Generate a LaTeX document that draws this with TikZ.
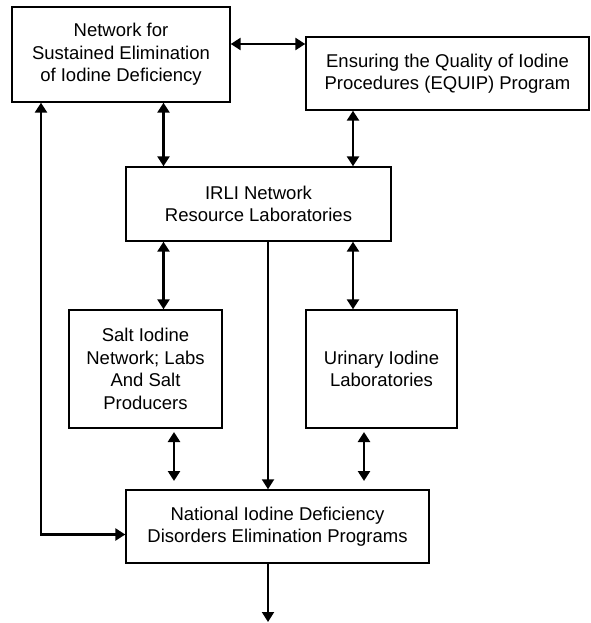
\documentclass[tikz,border=0pt]{standalone}
\usepackage{fontspec}
\setmainfont{Liberation Sans}
\usetikzlibrary{arrows.meta,calc}
\begin{document}
\begin{tikzpicture}[x=1pt,y=-1pt,
  box/.style={draw, line width=1.4pt, align=center, inner sep=0pt,
    font=\fontsize{18.5}{22.5}\selectfont},
  tip/.tip={Triangle[length=10pt,width=12pt]},
  conn/.style={line width=2.5pt, tip-tip},
  one/.style={line width=2pt, -tip}]
\useasboundingbox (0,0) rectangle (590,623);
\node[box, minimum width=218pt, minimum height=95pt] (A) at (121,54.5)
  {Network for\\Sustained Elimination\\of Iodine Deficiency};
\node[box, minimum width=283pt, minimum height=73pt] (B) at (447.5,73.5)
  {Ensuring the Quality of Iodine\\Procedures (EQUIP) Program};
\node[box, minimum width=265pt, minimum height=74pt] (C) at (258.5,204)
  {IRLI Network\\Resource Laboratories};
\node[box, minimum width=153pt, minimum height=118pt] (S) at (145.5,369)
  {Salt Iodine\\Network; Labs\\And Salt\\Producers};
\node[box, minimum width=151pt, minimum height=118pt] (U) at (381.5,369)
  {Urinary Iodine\\Laboratories};
\node[box, minimum width=303pt, minimum height=73pt] (D) at (277.5,526.5)
  {National Iodine Deficiency\\Disorders Elimination Programs};
\coordinate (cA) at (163.5,0);
\coordinate (cB) at (353,0);
\coordinate (cM) at (268,0);
\coordinate (cL) at (41,0);
\coordinate (ab) at (0,44);
\coordinate (s1) at (174,432);
\coordinate (s2) at (174,481);
\coordinate (u1) at (364,432);
\coordinate (u2) at (364,481);
\coordinate (out) at (268,622);
\draw[conn] (A.east |- ab) -- (B.west |- ab);
\draw[conn] (A.south -| cA) -- (C.north -| cA);
\draw[conn] (B.south -| cB) -- (C.north -| cB);
\draw[conn] (C.south -| cA) -- (S.north -| cA);
\draw[conn] (C.south -| cB) -- (U.north -| cB);
\draw[conn] (s1) -- (s2);
\draw[conn] (u1) -- (u2);
\draw[one] (C.south -| cM) -- (D.north -| cM);
\draw[conn] (A.south -| cL) -- ([yshift=-8pt]D.west -| cL) -- ([yshift=-8pt]D.west);
\draw[one] (D.south -| cM) -- (out);
\end{tikzpicture}
\end{document}
